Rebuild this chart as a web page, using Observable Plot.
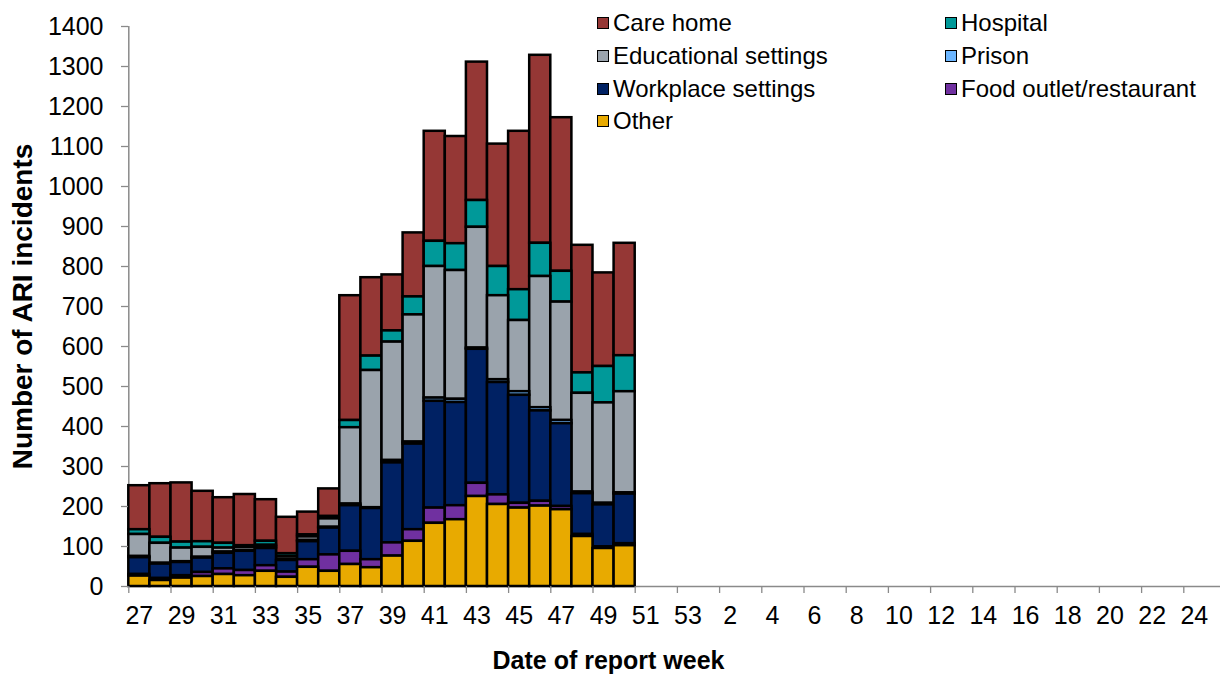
<!DOCTYPE html>
<html>
<head>
<meta charset="utf-8">
<script src="https://cdn.jsdelivr.net/npm/d3@7"></script>
<script src="https://cdn.jsdelivr.net/npm/@observablehq/plot@0.6"></script>
<style>
html, body { margin: 0; padding: 0; background: #fff; overflow: hidden; }
#wrap { position: relative; width: 1220px; height: 675px; font-family: "Liberation Sans", Arial, sans-serif; }
.item { position: absolute; display: flex; align-items: center; height: 28px; font-size: 24px; color: #000; white-space: nowrap; }
.sw { width: 10px; height: 10px; border: 1.7px solid #000; margin-right: 4px; flex: none; }
</style>
</head>
<body>
<div id="wrap"></div>
<script>
// Category axis: report weeks 27..53 then 1..25
const weeks = ["27","28","29","30","31","32","33","34","35","36","37","38","39","40","41","42","43","44","45","46","47","48","49","50","51","52","53",
               "1","2","3","4","5","6","7","8","9","10","11","12","13","14","15","16","17","18","19","20","21","22","23","24","25"];
const dataWeeks = ["27","28","29","30","31","32","33","34","35","36","37","38","39","40","41","42","43","44","45","46","47","48","49","50"];

// Series values (number of ARI incidents by setting)
const careHome    = [110,134,148,126,114,128,104, 91, 57, 69,312,196,140,160,275,268,346,306,396,470,384,319,234,281];
const hospital    = [ 12, 15, 15, 14, 12,  4, 10,  7,  5,  6, 18, 36, 28, 45, 63, 67, 67, 73, 77, 83, 77, 51, 91, 90];
const educational = [ 55, 50, 34, 25, 10,  8,  4,  7,  9, 21,191,343,296,318,329,322,302,210,178,328,296,247,251,253];
const prison      = [  3,  2,  2,  2,  3,  2,  4,  3,  3,  2,  4,  2,  6,  5,  8,  8,  3,  7,  9,  8,  8,  4,  4,  3];
const workplace   = [ 42, 36, 33, 36, 39, 48, 43, 29, 45, 67,114,128,200,214,267,258,335,281,270,226,207,102,105,124];
const foodOutlet  = [  4,  5,  6, 10, 14, 13, 14, 13, 19, 41, 33, 20, 33, 29, 38, 35, 33, 24, 12, 12,  8,  5,  4,  5];
const other       = [ 26, 15, 21, 25, 30, 27, 38, 23, 48, 38, 55, 47, 76,113,158,167,225,205,196,201,192,125, 95,102];

const seriesNames = ["Care home","Hospital","Educational settings","Prison","Workplace settings","Food outlet/restaurant","Other"];
const seriesColors = ["#953735","#009999","#9aa3ac","#6cb6ff","#002163","#7030a0","#e8aa00"];
const stackOrder = ["Other","Food outlet/restaurant","Workplace settings","Prison","Educational settings","Hospital","Care home"];
const seriesValues = [careHome, hospital, educational, prison, workplace, foodOutlet, other];
const yTicks = [0,100,200,300,400,500,600,700,800,900,1000,1100,1200,1300,1400];
const legendOrder = ["Care home","Hospital","Educational settings","Prison","Workplace settings","Food outlet/restaurant","Other"];

// Long table for the library
const table = [];
seriesNames.forEach((name, s) => {
  dataWeeks.forEach((w, i) => table.push({week: w, cat: name, value: seriesValues[s][i]}));
});

const x0 = 128.3, x1 = 1225.5;
const bw = (x1 - x0) / weeks.length;
const labelWeeks = weeks.filter((d, i) => i % 2 === 0);
const edgeRule = [{week: weeks[0], lo: 0, hi: 1400}];

const chart = Plot.plot({
  width: 1220,
  height: 675,
  marginTop: 26,
  marginBottom: 89,
  marginLeft: 128,
  marginRight: 0,
  style: {fontFamily: "'Liberation Sans', Arial, sans-serif", background: "white", color: "#000", overflow: "hidden"},
  x: {domain: weeks, range: [x0, x1], padding: 0, round: false, axis: null},
  y: {domain: [0, 1400], axis: null},
  color: {domain: seriesNames, range: seriesColors},
  marks: [
    Plot.ruleY([0], {stroke: "#8a8a8a", strokeWidth: 1.5}),
    Plot.ruleX(edgeRule, {x: "week", y1: "lo", y2: "hi", dx: -bw / 2, stroke: "#8a8a8a", strokeWidth: 1.5}),
    Plot.barY(table, {x: "week", y: "value", fill: "cat", stroke: "#000", strokeWidth: 2.5, order: stackOrder}),
    Plot.axisY({ticks: yTicks, tickSize: 7, tickPadding: 18, fontSize: 25, stroke: "#8a8a8a", strokeWidth: 1.3, tickFormat: d3.format("d"), label: null}),
    Plot.axisY({ticks: [], label: "Number of ARI incidents", labelAnchor: "center", labelOffset: 116, labelArrow: "none", fontSize: 28, fontWeight: "bold"}),
    Plot.axisX({ticks: labelWeeks, tickSize: 7, tickFormat: () => "", dx: -bw / 2, stroke: "#8a8a8a", strokeWidth: 1.3, label: null}),
    Plot.axisX({ticks: labelWeeks, tickSize: 0, tickPadding: 20, fontSize: 25, label: null}),
    Plot.text(["Date of report week"], {frameAnchor: "bottom", dx: -66, dy: 74, fontSize: 25, fontWeight: "bold", lineAnchor: "middle"})
  ]
});

const wrap = document.getElementById("wrap");
wrap.appendChild(chart);

// Legend (HTML overlay in the upper right of the plot area)
const legendPos = [[597, 23], [945, 23], [597, 56], [945, 56], [597, 89], [945, 89], [597, 121]];
legendOrder.forEach((name, i) => {
  const div = document.createElement("div");
  div.className = "item";
  div.style.left = legendPos[i][0] + "px";
  div.style.top = (legendPos[i][1] - 14) + "px";
  const sw = document.createElement("span");
  sw.className = "sw";
  sw.style.background = seriesColors[seriesNames.indexOf(name)];
  const tx = document.createElement("span");
  tx.textContent = name;
  div.appendChild(sw);
  div.appendChild(tx);
  wrap.appendChild(div);
});
</script>
</body>
</html>
